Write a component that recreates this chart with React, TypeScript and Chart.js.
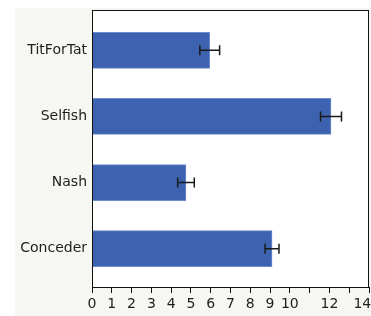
import React, { useEffect, useRef } from "react";
import { Chart, registerables } from "chart.js";

Chart.register(...registerables);

const categories = ["Conceder", "Nash", "Selfish", "TitForTat"];
const means = [9.1, 4.75, 12.08, 5.95];
const errors = [0.35, 0.42, 0.53, 0.5];
const xTickHidden = [11, 13];

const panelPlugin = {
  id: "panel",
  beforeDraw(chart: any) {
    const { ctx, width, height } = chart;
    ctx.save();
    ctx.fillStyle = "#ffffff";
    ctx.fillRect(0, 0, width, height);
    ctx.fillStyle = "#f6f6f2";
    ctx.fillRect(15, 8, width - 15, height - 8);
    const a = chart.chartArea;
    ctx.fillStyle = "#ffffff";
    ctx.fillRect(a.left, a.top, a.right - a.left, a.bottom - a.top);
    ctx.restore();
  },
  afterDraw(chart: any) {
    const { ctx } = chart;
    const a = chart.chartArea;
    ctx.save();
    ctx.strokeStyle = "#111";
    ctx.lineWidth = 1;
    ctx.strokeRect(Math.round(a.left) + 0.5, Math.round(a.top) + 0.5, Math.round(a.right - a.left) - 1, Math.round(a.bottom - a.top));
    // error bars
    const xs = chart.scales.x;
    const ys = chart.scales.y;
    ctx.strokeStyle = "#1a1a1a";
    ctx.lineWidth = 1.5;
    means.forEach((m, i) => {
      const y = ys.getPixelForValue(i);
      const x0 = xs.getPixelForValue(m - errors[i]);
      const x1 = xs.getPixelForValue(m + errors[i]);
      ctx.beginPath();
      ctx.moveTo(x0, y);
      ctx.lineTo(x1, y);
      ctx.moveTo(x0, y - 5);
      ctx.lineTo(x0, y + 5);
      ctx.moveTo(x1, y - 5);
      ctx.lineTo(x1, y + 5);
      ctx.stroke();
    });
    ctx.restore();
  },
};

export default function App() {
  const ref = useRef<HTMLCanvasElement>(null);
  useEffect(() => {
    document.body.style.margin = "0";
    const chart = new Chart(ref.current!, {
      type: "bar",
      data: {
        datasets: [
          {
            data: means.map((m, i) => ({ x: m, y: i })),
            backgroundColor: "#3d62b0",
            borderColor: "#6d8dd0",
            borderWidth: 1,
            borderSkipped: "left",
            barThickness: 36,
          } as any,
        ],
      },
      options: {
        indexAxis: "y",
        animation: false,
        responsive: false,
        events: [],
        layout: { padding: { top: 10, right: 2, left: 0, bottom: 0 } },
        plugins: { legend: { display: false }, tooltip: { enabled: false } },
        scales: {
          x: {
            type: "linear",
            min: 0,
            max: 14,
            offset: false,
            ticks: {
              stepSize: 1,
              autoSkip: false,
              maxRotation: 0,
              padding: 3,
              color: "#1e1e1e",
              font: { family: "DejaVu Sans", size: 14 },
              callback: (v: any) => (xTickHidden.includes(v) ? "" : v === 14 ? "14   " : String(v)),
            },
            grid: { drawOnChartArea: false, drawTicks: true, tickLength: 6, color: "#111", offset: false },
            border: { display: true, color: "#111" },
            afterFit: (s: any) => {
              s.height = 29;
              s.paddingRight = 0;
              s.paddingLeft = 0;
            },
          },
          y: {
            type: "linear",
            min: -0.58,
            max: 3.61,
            offset: false,
            afterBuildTicks: (s: any) => {
              s.ticks = categories.map((_, i) => ({ value: i }));
            },
            ticks: {
              padding: 5,
              color: "#1e1e1e",
              font: { family: "DejaVu Sans", size: 14 },
              callback: (v: any) => categories[v] ?? "",
            },
            grid: { display: false, drawTicks: false, offset: false },
            border: { display: true, color: "#111" },
            afterFit: (s: any) => {
              s.width = 92;
              s.paddingTop = 0;
              s.paddingBottom = 0;
            },
          },
        },
      },
      plugins: [panelPlugin],
    } as any);
    return () => chart.destroy();
  }, []);
  return (
    <div style={{ width: 371, height: 316 }}>
      <canvas ref={ref} width={371} height={316} style={{ display: "block" }} />
    </div>
  );
}
